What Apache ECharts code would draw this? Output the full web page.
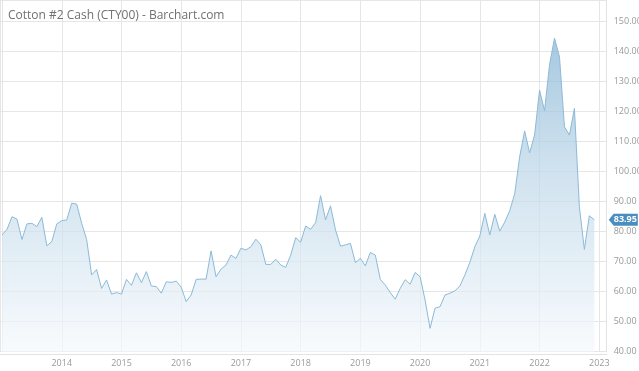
<!DOCTYPE html>
<html><head><meta charset="utf-8">
<script src="https://cdn.jsdelivr.net/npm/echarts@6/dist/echarts.min.js"></script>
<style>html,body{margin:0;padding:0;background:#fff}#c{width:639px;height:371px}</style>
</head><body><div id="c"></div>
<script>
const chartTitle = 'Cotton #2 Cash (CTY00) - Barchart.com';
const firstYear = 2013; // monthly series starting Jan 2013
const prices = [
  78.9, 80.8, 85.0, 84.2, 77.4, 82.6, 82.8, 81.7, 84.8, 75.3, 76.7, 82.6,   // 2013
  83.7, 83.9, 89.5, 89.2, 82.8, 77.4, 65.6, 67.4, 61.1, 63.9, 59.2, 59.7,   // 2014
  59.2, 64.1, 62.1, 66.3, 63.0, 66.7, 61.9, 61.7, 59.5, 63.3, 63.1, 63.5,   // 2015
  61.5, 56.7, 58.9, 64.1, 64.2, 64.2, 73.6, 65.0, 67.5, 68.9, 72.2, 71.1,   // 2016
  74.5, 73.9, 75.0, 77.5, 75.6, 69.1, 69.1, 70.8, 68.9, 68.1, 72.2, 78.0,   // 2017
  76.5, 81.9, 80.8, 83.0, 92.0, 83.9, 88.6, 80.6, 75.2, 75.6, 76.1, 69.7,   // 2018
  71.1, 68.6, 73.1, 72.2, 64.1, 62.2, 59.7, 57.5, 61.1, 64.0, 62.5, 66.4,   // 2019
  65.0, 57.2, 47.8, 54.5, 55.0, 58.9, 59.5, 60.3, 61.9, 65.6, 69.8, 75.0,   // 2020
  78.6, 86.1, 78.9, 85.8, 80.2, 83.2, 87.0, 92.6, 105.0, 113.6, 106.3, 112.2, // 2021
  127.2, 120.3, 135.6, 144.5, 138.3, 115.0, 112.2, 121.1, 88.3, 74.1, 85.3, 83.95 // 2022
];
const yearLabels = [2014, 2015, 2016, 2017, 2018, 2019, 2020, 2021, 2022, 2023];
const yMin = 40, yStep = 10, yTop = 157.23;
const xStart = 2012.966, xEnd = 2023.124; // axis extent in decimal years

const seriesData = prices.map((v, i) => [firstYear + i / 12, v]);
const last = prices[prices.length - 1];
const lastX = seriesData[seriesData.length - 1][0];

const chart = echarts.init(document.getElementById('c'), null, {renderer: 'canvas'});
const fontFam = '"Open Sans", "Noto Sans", sans-serif';
chart.setOption({
  animation: false,
  backgroundColor: '#fff',
  title: {
    text: chartTitle, left: 3, top: 5,
    textStyle: {color: '#707070', fontSize: 12, fontWeight: 'normal', fontFamily: fontFam}
  },
  grid: {left: 0, right: 32.3, top: 0, bottom: 19.3, containLabel: false, outerBoundsMode: 'none'},
  xAxis: {
    type: 'value', min: xStart, max: xEnd, splitNumber: 10,
    offset: 3,
    axisLine: {show: true, lineStyle: {color: '#e3e3e3', width: 1}},
    axisTick: {show: false},
    splitLine: {show: true, lineStyle: {color: '#e6e6e6', width: 1}},
    axisLabel: {
      formatter: v => (yearLabels.indexOf(Math.round(v)) >= 0 && Math.abs(v - Math.round(v)) < 1e-6) ? String(Math.round(v)) : '',
      color: '#9a9a9a', fontSize: 9, margin: 4, fontFamily: fontFam,
      showMinLabel: false, showMaxLabel: false
    }
  },
  yAxis: {
    type: 'value', position: 'right', min: yMin, max: yTop, interval: yStep,
    axisLine: {show: true, lineStyle: {color: '#e3e3e3', width: 1}},
    axisTick: {show: false},
    splitLine: {show: true, lineStyle: {color: '#e6e6e6', width: 1}},
    axisLabel: {
      formatter: v => v.toFixed(2), color: '#9a9a9a', fontSize: 9, margin: 7, fontFamily: fontFam,
      showMaxLabel: false
    }
  },
  series: [{
    type: 'line',
    data: seriesData,
    symbol: 'none',
    lineStyle: {color: '#8cbad8', width: 1},
    areaStyle: {
      color: new echarts.graphic.LinearGradient(0, 21, 0, 352, [
        {offset: 0, color: '#7aadd1'},
        {offset: 0.45, color: '#bcd6e8'},
        {offset: 1, color: '#f5f9fc'}
      ], true)
    },
    markPoint: {
      symbol: 'path://M0,6 L5,0 L30,0 L30,12 L5,12 Z',
      symbolSize: [29, 12],
      symbolOffset: [29, 0],
      itemStyle: {color: '#4a8dbf'},
      label: {
        show: true, position: 'inside', offset: [2, 0],
        color: '#fff', fontSize: 9, fontWeight: 'bold', fontFamily: fontFam,
        formatter: () => last.toFixed(2)
      },
      data: [{coord: [lastX, last]}]
    }
  }]
});
</script>
</body></html>
